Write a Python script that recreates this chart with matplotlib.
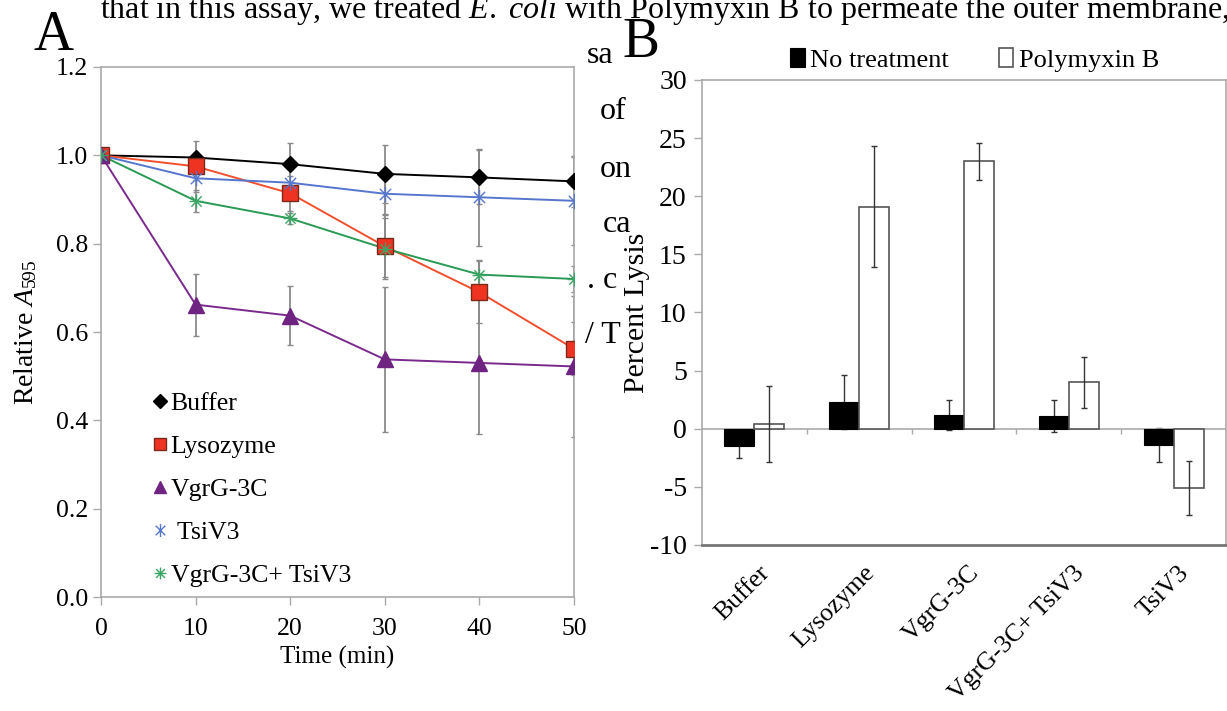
import numpy as np
import matplotlib
matplotlib.use("Agg")
import matplotlib.pyplot as plt
from matplotlib.path import Path
from matplotlib.lines import Line2D
from matplotlib.transforms import ScaledTranslation

plt.rcParams["font.family"] = ["Liberation Serif", "DejaVu Serif"]
plt.rcParams["mathtext.fontset"] = "custom"
plt.rcParams["mathtext.rm"] = "Liberation Serif"
plt.rcParams["mathtext.it"] = "Liberation Serif:italic"
plt.rcParams["axes.unicode_minus"] = False

# panel A: relative A595 over time
time_min = [0, 10, 20, 30, 40, 50]
buffer_a = [1.0, 0.995, 0.980, 0.958, 0.950, 0.941]
lysozyme_a = [1.0, 0.975, 0.914, 0.794, 0.690, 0.562]
vgrg_a = [1.0, 0.662, 0.637, 0.538, 0.530, 0.522]
tsiv3_a = [1.0, 0.948, 0.938, 0.913, 0.905, 0.897]
combo_a = [1.0, 0.897, 0.857, 0.789, 0.730, 0.720]

buffer_err = [0, 0.037, 0.048, 0.065, 0.061, 0.057]
lysozyme_err = [0, 0.030, 0.040, 0.070, 0.070, 0.060]
vgrg_err = [0, 0.070, 0.067, 0.165, 0.160, 0.160]
tsiv3_err = [0, 0.030, 0.040, 0.045, 0.110, 0.100]
combo_err = [0, 0.025, 0.012, 0.070, 0.032, 0.030]

# panel B: percent lysis
categories = ["Buffer", "Lysozyme", "VgrG-3C", "VgrG-3C+ TsiV3", "TsiV3"]
no_treatment = [-1.5, 2.3, 1.2, 1.1, -1.4]
no_treatment_err = [1.0, 2.3, 1.3, 1.4, 1.5]
polymyxin = [0.4, 19.1, 23.0, 4.0, -5.1]
polymyxin_err = [3.3, 5.2, 1.6, 2.2, 2.3]

star6 = Path([(-1, -1), (1, 1), (-1, 1), (1, -1), (0, -1.35), (0, 1.35)],
             [Path.MOVETO, Path.LINETO, Path.MOVETO, Path.LINETO, Path.MOVETO, Path.LINETO])
star8 = Path([(-1, -1), (1, 1), (-1, 1), (1, -1), (0, -1.35), (0, 1.35), (-1.35, 0), (1.35, 0)],
             [Path.MOVETO, Path.LINETO, Path.MOVETO, Path.LINETO,
              Path.MOVETO, Path.LINETO, Path.MOVETO, Path.LINETO])

fig = plt.figure(figsize=(12.27, 7.11), dpi=100)

# ---- panel A ----
ax = fig.add_axes([0.0823, 0.1603, 0.3855, 0.7455])
series = [
    ("Buffer", buffer_a, buffer_err, "black", "D", "black", "black", 8),
    ("Lysozyme", lysozyme_a, lysozyme_err, "#f0502e", "s", "#ee3322", "#7a2a1a", 11),
    ("VgrG-3C", vgrg_a, vgrg_err, "#7a2a8c", "^", "#6e2480", "#6e2480", 11),
    (" TsiV3", tsiv3_a, tsiv3_err, "#5576cc", star6, "none", "#5576cc", 11),
    ("VgrG-3C+ TsiV3", combo_a, combo_err, "#2a9a55", star8, "none", "#3aa565", 10),
]
handles = []
for label, y, err, col, mk, face, edge, ms in series:
    ax.errorbar(time_min, y, yerr=err, fmt="none", ecolor="#8a8a8a",
                elinewidth=1.3, capsize=2.5, capthick=1.0, zorder=1)
for label, y, err, col, mk, face, edge, ms in series:
    ax.plot(time_min, y, color=col, lw=1.4, zorder=2)
    ax.plot(time_min, y, ls="none", marker=mk, ms=ms, mfc=face, mec=edge,
            mew=1.0, zorder=3)
    handles.append(Line2D([], [], ls="none", marker=mk, ms=ms * 0.85, mfc=face,
                          mec=edge, mew=1.0, label=label))

ax.set_xlim(0, 50)
ax.set_ylim(0, 1.2)
ax.set_xticks([0, 10, 20, 30, 40, 50])
ax.set_yticks(np.arange(0, 1.21, 0.2))
ax.yaxis.set_major_formatter(matplotlib.ticker.FormatStrFormatter("%.1f"))
for s in ax.spines.values():
    s.set_color("#aaaaaa")
    s.set_linewidth(1.2)
ax.tick_params(axis="both", labelsize=18.5, color="#aaaaaa", length=6, width=1.0)
ax.tick_params(axis="x", pad=9)
ax.set_xlabel("Time (min)", fontsize=18, labelpad=4)
ax.set_ylabel(r"Relative $\mathit{A}_{595}$", fontsize=20, labelpad=12)
ax.legend(handles=handles, loc="lower left", bbox_to_anchor=(0.09, 0.0),
          frameon=False, fontsize=18.5, handlelength=0.5, handletextpad=0.15,
          labelspacing=0.78, borderaxespad=0)

# ---- panel B ----
bx = fig.add_axes([0.5721, 0.2335, 0.4271, 0.654])
x = np.arange(len(categories))
w = 0.286
bx.bar(x - w / 2, no_treatment, w, color="black", edgecolor="black", lw=0.8,
       label="No treatment", zorder=2)
bx.bar(x + w / 2, polymyxin, w, color="white", edgecolor="#555555", lw=1.2,
       label="Polymyxin B", zorder=2)
bx.errorbar(x - w / 2, no_treatment, yerr=no_treatment_err, fmt="none",
            ecolor="#333333", elinewidth=1.0, capsize=2, zorder=1)
bx.errorbar(x + w / 2, polymyxin, yerr=polymyxin_err, fmt="none",
            ecolor="#333333", elinewidth=1.0, capsize=2, zorder=3)
bx.axhline(0, color="#aaaaaa", lw=1.2, zorder=1.5)
bx.vlines(x[:-1] + 0.5, -0.45, 0, color="#aaaaaa", lw=1.0)

bx.set_xlim(-0.5, len(categories) - 0.5)
bx.set_ylim(-10, 30)
bx.set_yticks(np.arange(-10, 31, 5))
bx.set_xticks(x)
bx.set_xticklabels(categories, rotation=45, ha="right", rotation_mode="anchor")
bx.tick_params(axis="x", length=0, labelsize=18.5, pad=2)
bx.tick_params(axis="y", labelsize=20, color="#aaaaaa", length=6, width=1.0, pad=5)
for lab in bx.get_xticklabels():
    lab.set_transform(lab.get_transform() +
                      ScaledTranslation(0.04, -0.14, fig.dpi_scale_trans))
for s in bx.spines.values():
    s.set_color("#aaaaaa")
    s.set_linewidth(1.2)
bx.spines["bottom"].set_color("#777777")
bx.spines["bottom"].set_linewidth(2.0)
bx.set_ylabel("Percent Lysis", fontsize=21.5, labelpad=0)
bx.legend(loc="lower center", bbox_to_anchor=(0.52, 0.995), ncol=2, frameon=False,
          fontsize=19, handlelength=0.55, handleheight=0.7, handletextpad=0.2,
          columnspacing=1.9, borderaxespad=0)

# panel letters and the overlapping page text of the scan
fig.text(100 / 1227, 1 - 18 / 711,
         r"that in this assay, we treated $\mathit{E.\ coli}$ with Polymyxin B to permeate the outer membrane,",
         fontsize=23, va="baseline", ha="left")
for frag, px, py in [("sa", 587, 63), ("of", 600, 119), ("on", 600, 177),
                     ("ca", 603, 232), (". c", 587, 288), ("/ T", 585, 343)]:
    fig.text(px / 1227, 1 - py / 711, frag, fontsize=23, va="baseline", ha="left")
fig.text(33 / 1227, 1 - 50 / 711, "A", fontsize=40, va="baseline", ha="left")
fig.text(622 / 1227, 1 - 57 / 711, "B", fontsize=40, va="baseline", ha="left")

fig.savefig("out.png", dpi=100)
